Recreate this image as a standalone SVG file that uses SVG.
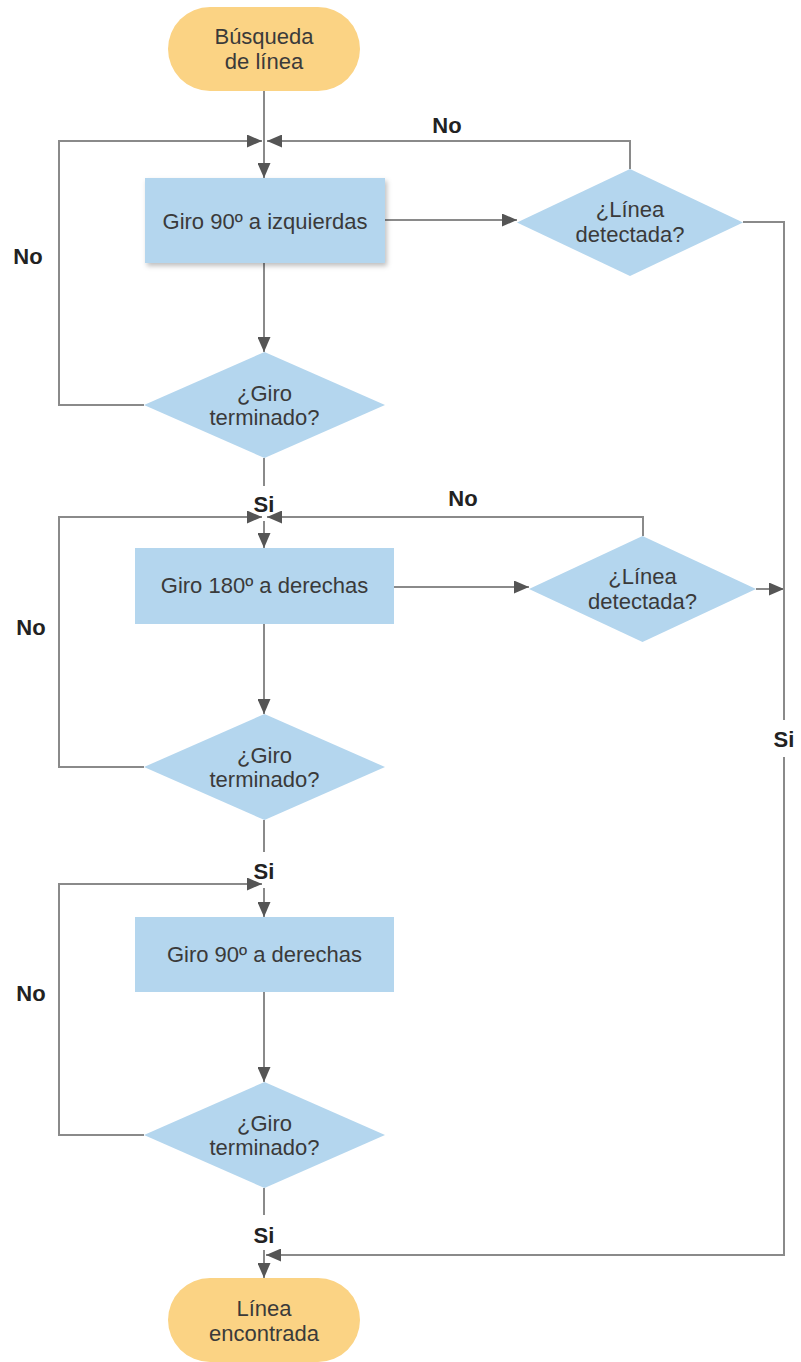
<svg xmlns="http://www.w3.org/2000/svg" width="801" height="1362" viewBox="0 0 801 1362">
<defs>
<style>
.term{fill:#FBD384;}
.proc{fill:#B4D6EE;}
.dec{fill:#B4D6EE;}
.t{font-family:"Liberation Sans",Arial,sans-serif;font-size:22px;fill:#3a3a3a;text-anchor:middle;}
.lbl{font-family:"Liberation Sans",Arial,sans-serif;font-size:22px;font-weight:bold;fill:#222;text-anchor:middle;}
.c{fill:none;stroke:#8a8a8a;stroke-width:2;}
.ca{fill:none;stroke:#8a8a8a;stroke-width:2;marker-end:url(#arr);}
</style>
<marker id="arr" viewBox="0 0 15 13" refX="15" refY="6.5" markerWidth="15" markerHeight="13" markerUnits="userSpaceOnUse" orient="auto">
<path d="M0,0 L15,6.5 L0,13 z" fill="#555"/>
</marker>
<filter id="sh" x="-10%" y="-10%" width="125%" height="130%">
<feDropShadow dx="2" dy="3" stdDeviation="2.5" flood-color="#000" flood-opacity="0.25"/>
</filter>
</defs>

<g id="connectors">
<path class="ca" d="M264,91 V178"/>
<path class="ca" d="M264,263 V352"/>
<path class="ca" d="M385,220 H517"/>
<path class="ca" d="M630,169 V141 H267"/>
<path class="ca" d="M144,405 H59 V141 H262"/>
<path class="ca" d="M264,458 V486 M264,521 V548"/>
<path class="ca" d="M394,587 H529"/>
<path class="ca" d="M643,536 V517 H267"/>
<path class="ca" d="M756,589 H784"/>
<path class="ca" d="M264,624 V714"/>
<path class="ca" d="M144,767 H59 V517 H262"/>
<path class="ca" d="M264,820 V852 M264,888 V917"/>
<path class="ca" d="M264,992 V1082"/>
<path class="ca" d="M144,1135 H59 V884 H262"/>
<path class="ca" d="M264,1188 V1215 M264,1250 V1278"/>
<path class="ca" d="M743,222 H784 V720 M784,757 V1255 H266"/>
</g>

<g id="start">
<rect class="term" x="168" y="7" width="192" height="84" rx="42"/>
<text class="t" x="264" y="44">Búsqueda</text>
<text class="t" x="264" y="69">de línea</text>
</g>

<g id="giro90izq">
<rect class="proc" x="145" y="178" width="240" height="85" filter="url(#sh)"/>
<text class="t" x="265" y="229">Giro 90º a izquierdas</text>
</g>

<g id="linea1">
<polygon class="dec" points="630,169 743,222.5 630,276 517,222.5"/>
<text class="t" x="630" y="217">¿Línea</text>
<text class="t" x="630" y="242">detectada?</text>
</g>

<g id="giroTerm1">
<polygon class="dec" points="264.5,352 385,405 264.5,458 144,405"/>
<text class="t" x="264.5" y="401">¿Giro</text>
<text class="t" x="264.5" y="425">terminado?</text>
</g>

<g id="giro180der">
<rect class="proc" x="135" y="548" width="259" height="76"/>
<text class="t" x="264.5" y="593">Giro 180º a derechas</text>
</g>

<g id="linea2">
<polygon class="dec" points="642.5,536 756,589 642.5,642 529,589"/>
<text class="t" x="642.5" y="584">¿Línea</text>
<text class="t" x="642.5" y="609">detectada?</text>
</g>

<g id="giroTerm2">
<polygon class="dec" points="264.5,714 385,767 264.5,820 144,767"/>
<text class="t" x="264.5" y="763">¿Giro</text>
<text class="t" x="264.5" y="787">terminado?</text>
</g>

<g id="giro90der">
<rect class="proc" x="135" y="917" width="259" height="75"/>
<text class="t" x="264.5" y="962">Giro 90º a derechas</text>
</g>

<g id="giroTerm3">
<polygon class="dec" points="264.5,1082 385,1135 264.5,1188 144,1135"/>
<text class="t" x="264.5" y="1131">¿Giro</text>
<text class="t" x="264.5" y="1155">terminado?</text>
</g>

<g id="end">
<rect class="term" x="168" y="1278" width="192" height="84" rx="42"/>
<text class="t" x="264" y="1316">Línea</text>
<text class="t" x="264" y="1341">encontrada</text>
</g>

<g id="labels">
<text class="lbl" x="447" y="133">No</text>
<text class="lbl" x="28" y="264">No</text>
<text class="lbl" x="264" y="512">Si</text>
<text class="lbl" x="463" y="506">No</text>
<text class="lbl" x="31" y="635">No</text>
<text class="lbl" x="784" y="747">Si</text>
<text class="lbl" x="264" y="879">Si</text>
<text class="lbl" x="31" y="1001">No</text>
<text class="lbl" x="264" y="1243">Si</text>
</g>
</svg>
